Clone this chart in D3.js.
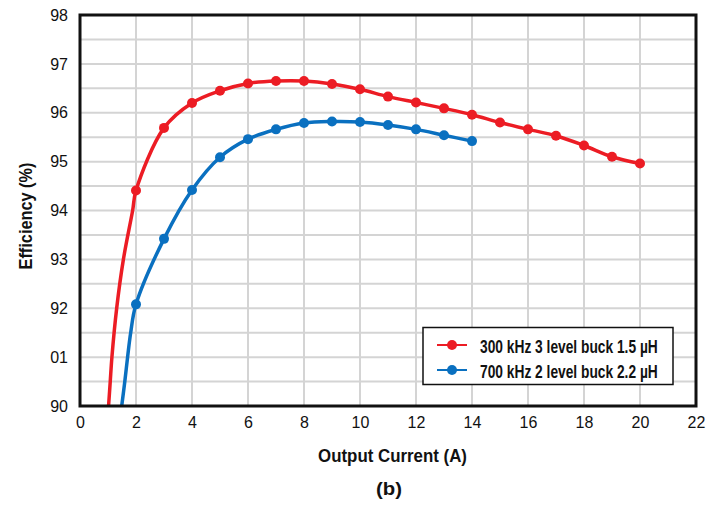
<!DOCTYPE html>
<html><head><meta charset="utf-8">
<script src="https://cdn.jsdelivr.net/npm/d3@7"></script>
<style>body{margin:0;background:#fff;} text{font-family:"Liberation Sans",Arial,sans-serif;}</style>
</head><body>
<svg id="c" width="708" height="506"></svg>
<script>
// ---- data ----
const xTicks = [0,2,4,6,8,10,12,14,16,18,20,22];
const yTicks = [90,91,92,93,94,95,96,97,98];
const yTickLabels = ["90","01","92","93","94","95","96","97","98"];
const redLabel = "300 kHz 3 level buck 1.5 µH";
const blueLabel = "700 kHz 2 level buck 2.2 µH";
const redX = [2,3,4,5,6,7,8,9,10,11,12,13,14,15,16,17,18,19,20];
const redY = [94.41,95.69,96.20,96.45,96.60,96.65,96.65,96.59,96.48,96.33,96.21,96.09,95.96,95.80,95.66,95.53,95.33,95.10,94.96];
const blueX = [2,3,4,5,6,7,8,9,10,11,12,13,14];
const blueY = [92.08,93.42,94.42,95.09,95.46,95.66,95.79,95.82,95.81,95.75,95.66,95.54,95.42];
// fitted curve below the first measured point (no markers)
const redLeadX = [1.02,1.08,1.14,1.31,1.55,1.88];
const redLeadY = [90,90.5,91,92,93,94];
const blueLeadX = [1.49,1.60,1.70,1.81];
const blueLeadY = [90,90.5,91,91.5];

const RED = "#ec1c24", BLUE = "#0a70c0";
const svg = d3.select("#c");
const m = {l:80, t:15, r:696, b:406};
const x = d3.scaleLinear().domain([0,22]).range([m.l, m.r]);
const y = d3.scaleLinear().domain([90,98]).range([m.b, m.t]);

// grid
const g = svg.append("g");
g.selectAll(".vg").data(xTicks.slice(1,-1)).enter().append("line")
  .attr("x1",d=>x(d)).attr("x2",d=>x(d)).attr("y1",m.t).attr("y2",m.b)
  .attr("stroke","#d4d4d4").attr("stroke-width",2);
g.selectAll(".hg").data(d3.range(90.5,98,0.5)).enter().append("line")
  .attr("y1",d=>y(d)).attr("y2",d=>y(d)).attr("x1",m.l).attr("x2",m.r)
  .attr("stroke","#d4d4d4").attr("stroke-width",2);

// clip
svg.append("clipPath").attr("id","pc").append("rect")
  .attr("x",m.l).attr("y",m.t).attr("width",m.r-m.l).attr("height",m.b-m.t);

const line = d3.line().x(d=>x(d[0])).y(d=>y(d[1])).curve(d3.curveCatmullRom.alpha(0.5));
function series(lx,ly,px,py,color){
  const pts = lx.map((v,i)=>[v,ly[i]]).concat(px.map((v,i)=>[v,py[i]]));
  const gg = svg.append("g").attr("clip-path","url(#pc)");
  gg.append("path").attr("d",line(pts)).attr("fill","none").attr("stroke",color).attr("stroke-width",3.5);
  gg.selectAll("circle").data(px.map((v,i)=>[v,py[i]])).enter().append("circle")
    .attr("cx",d=>x(d[0])).attr("cy",d=>y(d[1])).attr("r",5).attr("fill",color);
}
series(redLeadX,redLeadY,redX,redY,RED);
series(blueLeadX,blueLeadY,blueX,blueY,BLUE);

// border
svg.append("rect").attr("x",m.l).attr("y",m.t).attr("width",m.r-m.l).attr("height",m.b-m.t)
  .attr("fill","none").attr("stroke","#111").attr("stroke-width",3);

// axes
const xAxis = svg.append("g").attr("transform",`translate(0,${m.b})`)
  .call(d3.axisBottom(x).tickValues(xTicks).tickFormat(d3.format("d")).tickSize(0).tickPadding(11));
xAxis.select(".domain").remove();
xAxis.selectAll("text").attr("font-size",16).attr("fill","#111");
const yAxis = svg.append("g").attr("transform",`translate(${m.l},0)`)
  .call(d3.axisLeft(y).tickValues(yTicks).tickFormat((d,i)=>yTickLabels[i]).tickSize(0).tickPadding(12));
yAxis.select(".domain").remove();
yAxis.selectAll("text").attr("font-size",16).attr("fill","#111");

// condensed bold text: scale horizontally to the target width
function condensed(parent, txt, tx, ty, width, anchor, rot){
  const t = parent.append("text").attr("x",0).attr("y",0)
    .attr("font-size",19).attr("font-weight","bold").attr("fill","#111")
    .attr("text-anchor",anchor).text(txt);
  const sx = width / t.node().getComputedTextLength();
  t.attr("transform",`translate(${tx},${ty})${rot?" rotate(-90)":""} scale(${sx},1)`);
  return t;
}
condensed(svg,"Output Current (A)",392.5,462,149,"middle",false);
condensed(svg,"(b)",389,495,26,"middle",false);
condensed(svg,"Efficiency (%)",32,216,107,"middle",true);

// legend
const lg = svg.append("g");
lg.append("rect").attr("x",423).attr("y",327.5).attr("width",250).attr("height",57)
  .attr("fill","#fff").attr("stroke","#111").attr("stroke-width",1.5);
[[redLabel,RED],[blueLabel,BLUE]].forEach((e,i)=>{
  const yy = 345 + i*25;
  lg.append("line").attr("x1",437).attr("x2",467).attr("y1",yy).attr("y2",yy).attr("stroke",e[1]).attr("stroke-width",2);
  lg.append("circle").attr("cx",452).attr("cy",yy).attr("r",5).attr("fill",e[1]);
  condensed(lg,e[0],480,yy+7.5,178,"start",false);
});
</script>
</body></html>
